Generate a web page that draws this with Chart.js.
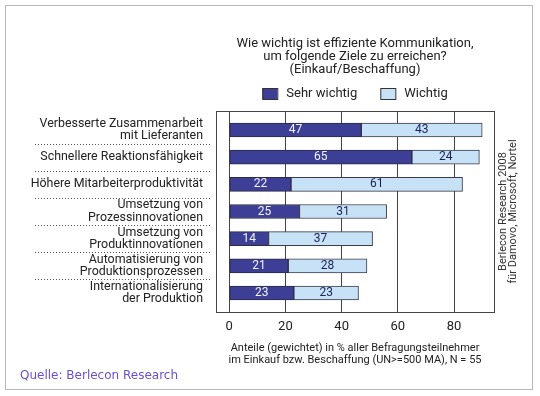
<!DOCTYPE html>
<html>
<head>
<meta charset="utf-8">
<script src="https://cdn.jsdelivr.net/npm/chart.js@4.4.1/dist/chart.umd.min.js"></script>
<style>
  html, body { margin: 0; padding: 0; background: #fff; }
</style>
</head>
<body>
<canvas id="chart" width="540" height="396"></canvas>
<script>
// Daten (Berlecon Research 2008)
const categories = [
    ['Verbesserte Zusammenarbeit', 'mit Lieferanten'],
    'Schnellere Reaktionsfähigkeit',
    'Höhere Mitarbeiterproduktivität',
    ['Umsetzung von', 'Prozessinnovationen'],
    ['Umsetzung von', 'Produktinnovationen'],
    ['Automatisierung von', 'Produktionsprozessen'],
    ['Internationalisierung', 'der Produktion']
];
const sehrWichtig = [47, 65, 22, 25, 14, 21, 23];
const wichtig = [43, 24, 61, 31, 37, 28, 23];
const xTicks = [0, 20, 40, 60, 80];

const titleLines = [
    'Wie wichtig ist effiziente Kommunikation,',
    'um folgende Ziele zu erreichen?',
    '(Einkauf/Beschaffung)'
];
const xTitle = [
    'Anteile (gewichtet) in % aller Befragungsteilnehmer',
    'im Einkauf bzw. Beschaffung (UN>=500 MA), N = 55'
];
const sideNote = ['Berlecon Research 2008', 'für Damovo, Microsoft, Nortel'];
const sourceText = 'Quelle: Berlecon Research';

const dunkelBlau = '#3c3f95';
const hellBlau = '#c7e2f7';
const fontFam = 'Roboto, "Noto Sans", sans-serif';

// Zeichnet Rahmen, Titel, Legende, Trennlinien und Beschriftungen
const extras = {
    id: 'extras',
    beforeDraw(chart) {
        const ctx = chart.ctx;
        ctx.save();
        ctx.fillStyle = '#fff';
        ctx.fillRect(0, 0, chart.width, chart.height);
        ctx.strokeStyle = '#b8b8b8';
        ctx.lineWidth = 1;
        ctx.strokeRect(5.5, 5.5, 527, 384);
        ctx.restore();
    },
    afterDatasetsDraw(chart) {
        const ctx = chart.ctx;
        ctx.save();
        ctx.font = '12px ' + fontFam;
        ctx.textAlign = 'center';
        ctx.textBaseline = 'middle';
        chart.data.datasets.forEach((ds, di) => {
            const meta = chart.getDatasetMeta(di);
            meta.data.forEach((bar, i) => {
                ctx.fillStyle = di === 0 ? '#f2f2ff' : '#1c2257';
                ctx.fillText(ds.data[i].x, (bar.x + bar.base) / 2, bar.y);
            });
        });
        ctx.restore();
    },
    afterDraw(chart) {
        const ctx = chart.ctx;
        const area = chart.chartArea;
        const yScale = chart.scales.y;
        const cx = (area.left + area.right) / 2;
        ctx.save();

        // Rahmen um das Diagramm
        ctx.strokeStyle = '#444';
        ctx.lineWidth = 1;
        ctx.strokeRect(Math.round(area.left) + 0.5, Math.round(area.top) + 0.5,
            Math.round(area.right - area.left), Math.round(area.bottom - area.top));

        // Titel
        ctx.fillStyle = '#222';
        ctx.font = '13px ' + fontFam;
        ctx.textAlign = 'center';
        ctx.textBaseline = 'middle';
        titleLines.forEach((t, i) => ctx.fillText(t, cx, 43.5 + i * 13.2));

        // Legende
        const items = chart.data.datasets.map(ds => ({ text: ds.label, color: ds.backgroundColor }));
        const widths = items.map(it => ctx.measureText(it.text).width);
        const total = widths.reduce((a, b) => a + b, 0) + items.length * 24 + 23;
        let lx = cx - total / 2;
        items.forEach((it, i) => {
            ctx.fillStyle = it.color;
            ctx.fillRect(lx, 88, 15, 11);
            ctx.strokeStyle = '#333';
            ctx.strokeRect(lx + 0.5, 88.5, 15, 11);
            ctx.fillStyle = '#222';
            ctx.textAlign = 'left';
            ctx.fillText(it.text, lx + 24, 93.5);
            lx += 24 + widths[i] + 23;
        });

        // gepunktete Trennlinien zwischen den Kategorien
        ctx.strokeStyle = '#555';
        ctx.setLineDash([1, 2]);
        for (let i = 0; i < categories.length - 1; i++) {
            const y = Math.round(yScale.getPixelForValue(i + 0.5)) + 0.5;
            ctx.beginPath();
            ctx.moveTo(35, y);
            ctx.lineTo(211, y);
            ctx.stroke();
        }
        ctx.setLineDash([]);

        // senkrechter Hinweis rechts
        ctx.translate(503, (area.top + area.bottom) / 2);
        ctx.rotate(-Math.PI / 2);
        ctx.font = '11px ' + fontFam;
        ctx.fillStyle = '#333';
        ctx.textAlign = 'center';
        sideNote.forEach((t, i) => ctx.fillText(t, 0, i * 10));
        ctx.setTransform(1, 0, 0, 1, 0, 0);

        // Quelle
        ctx.font = '12px "DejaVu Sans", sans-serif';
        ctx.fillStyle = '#6a4fd0';
        ctx.textAlign = 'left';
        ctx.fillText(sourceText, 20, 375.5);
        ctx.restore();
    }
};

const ctx = document.getElementById('chart').getContext('2d');
const chart = new Chart(ctx, {
    type: 'bar',
    data: {
        datasets: [
            {
                label: 'Sehr wichtig',
                data: sehrWichtig.map((v, i) => ({ x: v, y: i })),
                backgroundColor: dunkelBlau,
                borderColor: '#2b2b40',
                borderWidth: 1,
                borderSkipped: false,
                barThickness: 14
            },
            {
                label: 'Wichtig',
                data: wichtig.map((v, i) => ({ x: v, y: i })),
                backgroundColor: hellBlau,
                borderColor: '#3a3a48',
                borderWidth: 1,
                borderSkipped: false,
                barThickness: 14
            }
        ]
    },
    options: {
        indexAxis: 'y',
        responsive: false,
        animation: false,
        layout: { padding: { left: 0, right: 46, top: 111, bottom: 24 } },
        scales: {
            x: {
                type: 'linear',
                stacked: true,
                min: -4.7,
                max: 94.2,
                afterBuildTicks: s => { s.ticks = xTicks.map(v => ({ value: v })); },
                afterFit: s => { s.height = 60; },
                grid: { color: '#444', drawTicks: false },
                border: { display: false },
                ticks: { color: '#222', padding: 7, font: { family: fontFam, size: 13 } },
                title: {
                    display: true,
                    text: xTitle,
                    color: '#222',
                    font: { family: fontFam, size: 11, lineHeight: 1.15 },
                    padding: { top: 0, bottom: 5 }
                }
            },
            y: {
                type: 'linear',
                stacked: true,
                reverse: true,
                offset: false,
                min: -0.7,
                max: 6.7,
                afterBuildTicks: s => { s.ticks = categories.map((c, i) => ({ value: i })); },
                afterFit: s => { s.width = 216; },
                grid: { display: false },
                border: { display: false },
                ticks: {
                    color: '#222',
                    padding: 5,
                    autoSkip: false,
                    font: { family: fontFam, size: 12.4, lineHeight: 1.0 },
                    callback: v => categories[v]
                }
            }
        },
        plugins: {
            legend: { display: false },
            title: { display: false },
            tooltip: { enabled: false }
        }
    },
    plugins: [extras]
});
</script>
</body>
</html>
